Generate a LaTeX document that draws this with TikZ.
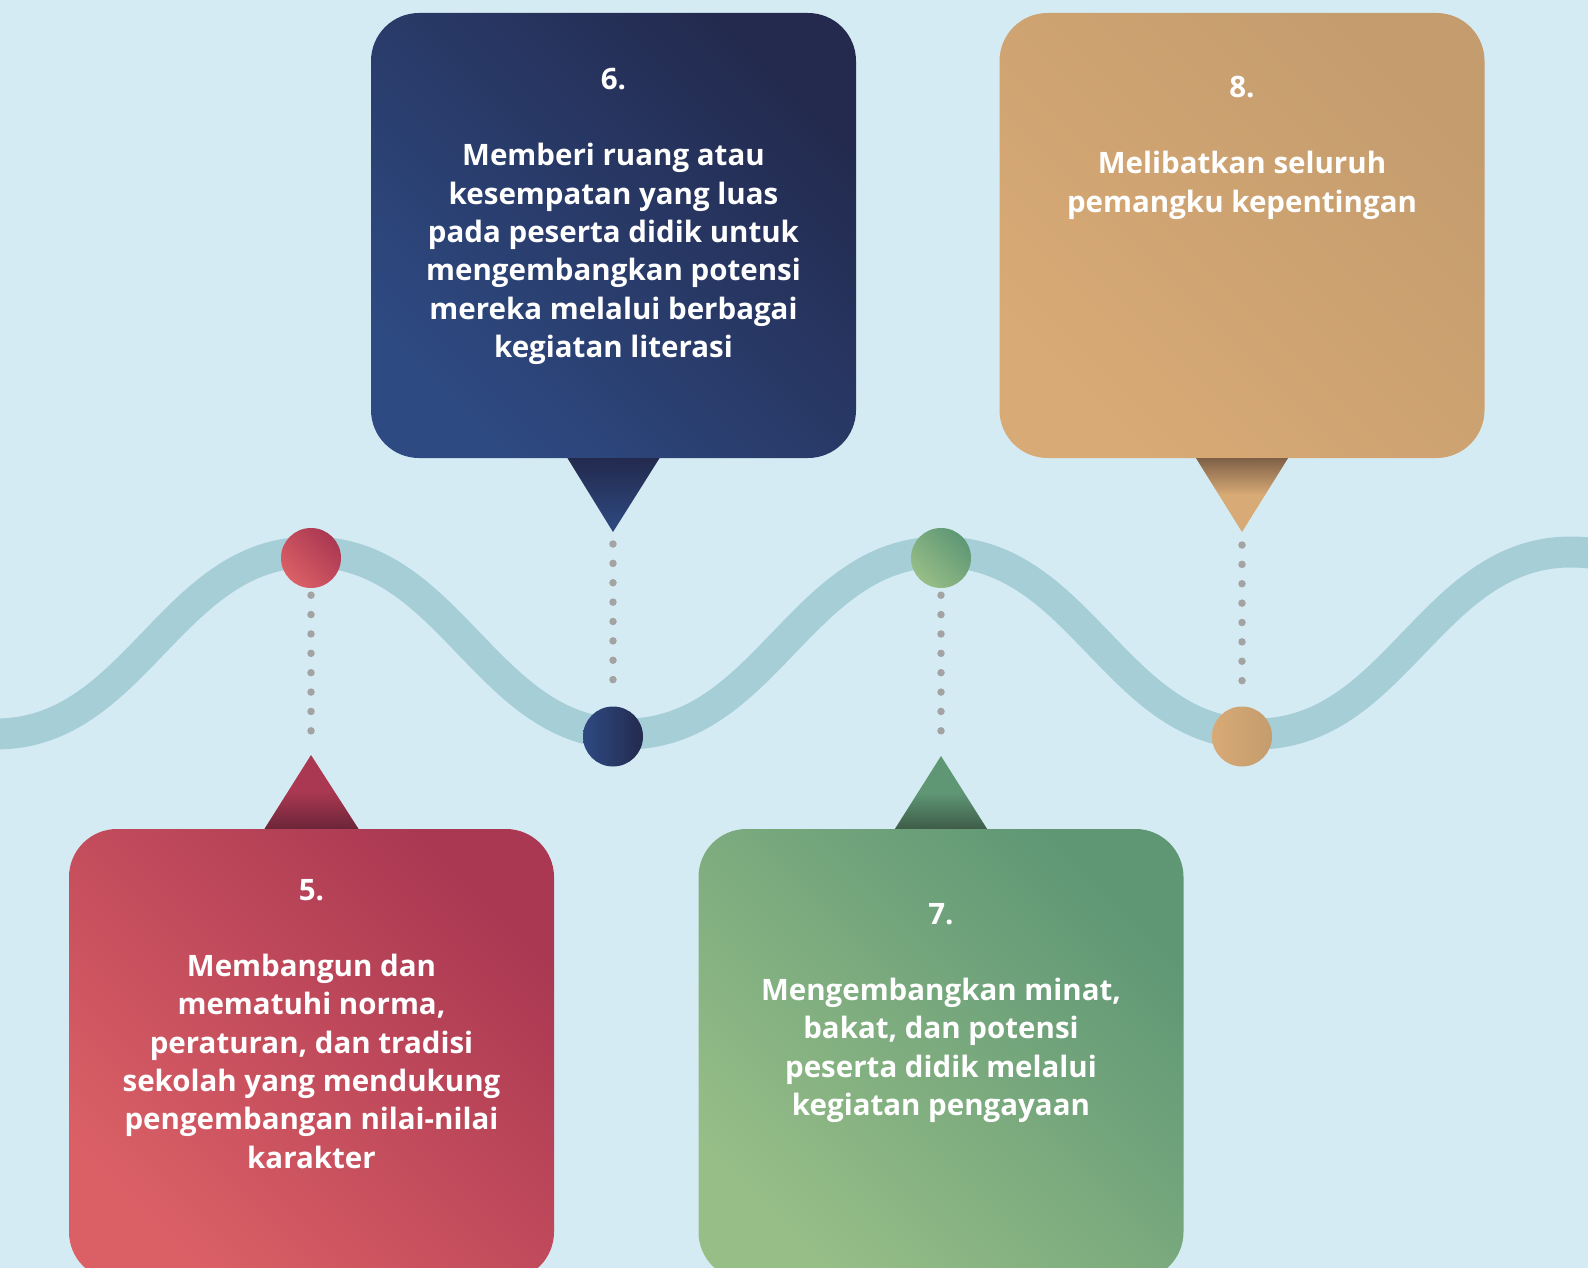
\documentclass[tikz,border=0pt]{standalone}
\usepackage{fontspec}
\setmainfont{Open Sans}
\usetikzlibrary{positioning, calc}

\definecolor{bgblue}{HTML}{D5EBF3}
\definecolor{wavec}{HTML}{A6CED7}
\definecolor{dotgrey}{HTML}{A3A3A3}
\definecolor{redA}{HTML}{AA3852}
\definecolor{redB}{HTML}{DB6066}
\definecolor{redC}{HTML}{6C2538}
\definecolor{navyA}{HTML}{232A4E}
\definecolor{navyB}{HTML}{2E4A82}
\definecolor{greenA}{HTML}{5F9775}
\definecolor{greenB}{HTML}{97BE87}
\definecolor{greenC}{HTML}{3E5C48}
\definecolor{tanA}{HTML}{C49C6E}
\definecolor{tanB}{HTML}{D8AA75}
\definecolor{tanC}{HTML}{7F6047}

\begin{document}
\begin{tikzpicture}[x=1pt, y=-1pt,
    box/.style={rounded corners=48pt, minimum width=485pt, minimum height=445pt, inner sep=0pt},
    txt/.style={text=white, font=\fontsize{29.5}{38.3}\selectfont\bfseries, align=center, inner sep=0pt},
    dot/.style={circle, minimum size=60pt, inner sep=0pt},
    dots/.style={dotgrey, line width=7.5pt, line cap=round, dash pattern=on 0pt off 19.375pt}]
    % latar dan gelombang
    \useasboundingbox (0,0) rectangle (1588,1268);
    \fill[bgblue] (0,0) rectangle (1588,1268);
    \draw[wavec, line width=31pt] (-319,552) .. controls (-179,552) and (-144,734) .. (-4,734)
        .. controls (136,734) and (171,552) .. (311,552) .. controls (451,552) and (486,734) .. (626,734)
        .. controls (766,734) and (801,552) .. (941,552) .. controls (1081,552) and (1116,734) .. (1256,734)
        .. controls (1396,734) and (1431,552) .. (1571,552) .. controls (1711,552) and (1746,734) .. (1886,734);

    % kotak-kotak
    \node[box, minimum height=451pt, top color=redA, bottom color=redB, shading angle=-45] (box5) at (311.5,1054.5) {};
    \node[box, top color=navyA, bottom color=navyB, shading angle=-45] (box6) at (613.5,235.5) {};
    \node[box, minimum height=451pt, top color=greenA, bottom color=greenB, shading angle=-45] (box7) at (941,1054.5) {};
    \node[box, top color=tanA, bottom color=tanB, shading angle=-45] (box8) at (1242,235.5) {};

    % ujung penunjuk
    \coordinate (tip5) at (311,755);
    \coordinate (tip6) at (613,532);
    \coordinate (tip7) at (941,756);
    \coordinate (tip8) at (1242,532);
    \shade[top color=redA, bottom color=redC, middle color=redA] ($(box5.north)+(-47,0)$) -- (tip5) -- ($(box5.north)+(47,0)$) -- cycle;
    \shade[top color=navyA, bottom color=navyB] ($(box6.south)+(-46,0)$) -- ($(box6.south)+(46,0)$) -- (tip6) -- cycle;
    \shade[top color=greenA, bottom color=greenC, middle color=greenA] ($(box7.north)+(-46,0)$) -- (tip7) -- ($(box7.north)+(46,0)$) -- cycle;
    \shade[top color=tanC, bottom color=tanB, middle color=tanB] ($(box8.south)+(-46,0)$) -- ($(box8.south)+(46,0)$) -- (tip8) -- cycle;

    % titik pada gelombang
    \node[dot, top color=redA, bottom color=redB, shading angle=-45] (dot5) at (311,558) {};
    \node[dot, left color=navyB, right color=navyA] (dot6) at (613,736.5) {};
    \node[dot, top color=greenA, bottom color=greenB, shading angle=-45] (dot7) at (941,558) {};
    \node[dot, left color=tanB, right color=tanA] (dot8) at (1242,736.5) {};

    % garis titik-titik
    \draw[dots] ($(dot5.south)+(0,7)$) -- ($(tip5)+(0,-5)$);
    \draw[dots] ($(tip6)+(0,12)$) -- ($(dot6.north)+(0,-8)$);
    \draw[dots] ($(dot7.south)+(0,7)$) -- ($(tip7)+(0,-6)$);
    \draw[dots] ($(tip8)+(0,13)$) -- ($(dot8.north)+(0,-7)$);

    % teks
    \node[txt, below=50pt of box5.north] (text5) {5.\\[38.3pt]Membangun dan\\mematuhi norma,\\peraturan, dan tradisi\\sekolah yang mendukung\\pengembangan nilai-nilai\\karakter};
    \node[txt, below=55pt of box6.north] (text6) {6.\\[38.3pt]Memberi ruang atau\\kesempatan yang luas\\pada peserta didik untuk\\mengembangkan potensi\\mereka melalui berbagai\\kegiatan literasi};
    \node[txt, below=74pt of box7.north] (text7) {7.\\[38.3pt]Mengembangkan minat,\\bakat, dan potensi\\peserta didik melalui\\kegiatan pengayaan};
    \node[txt, below=63pt of box8.north] (text8) {8.\\[38.3pt]Melibatkan seluruh\\pemangku kepentingan};
\end{tikzpicture}
\end{document}
